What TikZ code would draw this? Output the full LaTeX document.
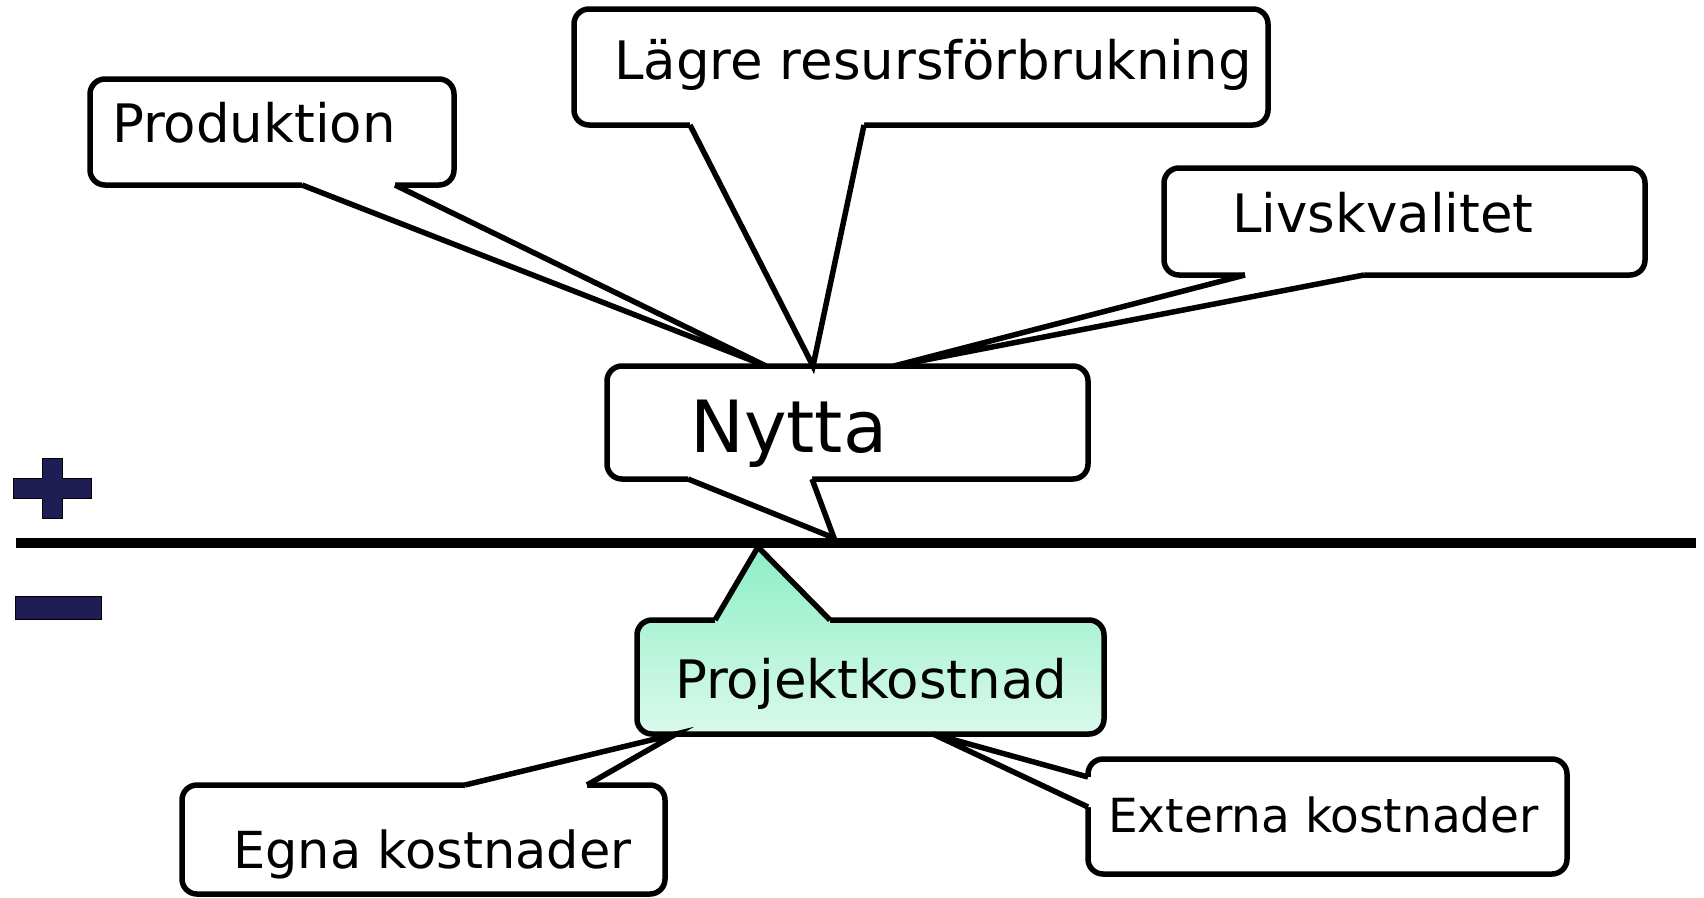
\documentclass[tikz,border=0pt]{standalone}
\usepackage{fontspec}
\setmainfont{DejaVu Sans}
\usetikzlibrary{calc}

\definecolor{signblue}{HTML}{1E1E55}
\definecolor{mintTop}{HTML}{8CEFC6}
\definecolor{mintMid}{HTML}{ACF3D5}
\definecolor{mintBot}{HTML}{DBF9EC}

\begin{document}
\begin{tikzpicture}[
        x=1pt, y=-1pt,
        every node/.style={font=\fontsize{53}{60}\selectfont},
        box/.style={draw, line width=5.5pt, rounded corners=15pt, rectangle, inner sep=0pt, outer sep=0pt},
        whitebox/.style={box, fill=white},
        mintbox/.style={box, top color=mintMid, bottom color=mintBot},
        txt/.style={anchor=base west, inner sep=0pt},
        ptrline/.style={line width=5.5pt, line join=miter},
        sign/.style={fill=signblue, draw=black, line width=1pt}
    ]
    \useasboundingbox (0,0) rectangle (1704,897);

    % callout frames
    \node[whitebox, minimum width=364pt, minimum height=106pt] (prod) at (272,132) {};
    \node[whitebox, minimum width=694pt, minimum height=116pt] (lagre) at (921,67) {};
    \node[whitebox, minimum width=481pt, minimum height=107pt] (livs) at (1404.5,221.5) {};
    \node[whitebox, minimum width=481pt, minimum height=113pt] (nytta) at (847.5,422.5) {};
    \node[mintbox, minimum width=467pt, minimum height=114pt] (proj) at (870.5,677) {};
    \node[whitebox, minimum width=483pt, minimum height=109pt] (egna) at (423.5,839.5) {};
    \node[whitebox, minimum width=479pt, minimum height=115pt] (ext) at (1327.5,816.5) {};

    \coordinate (axisL) at (16,543);
    \coordinate (axisR) at (1696,543);

    % pointer ends
    \coordinate (prodA) at ($(prod.south west)+(212,0)$);
    \coordinate (prodB) at ($(prod.south west)+(305,0)$);
    \coordinate (prodTip) at ($(nytta.north west)+(159,0)$);
    \coordinate (lagreA) at ($(lagre.south west)+(116,0)$);
    \coordinate (lagreB) at ($(lagre.south west)+(290,0)$);
    \coordinate (lagreTip) at ($(nytta.north west)+(206,0)$);
    \coordinate (livsA) at ($(livs.south west)+(81,0)$);
    \coordinate (livsB) at ($(livs.south west)+(200,0)$);
    \coordinate (livsTip) at ($(nytta.north west)+(287,0)$);
    \coordinate (nyttaA) at ($(nytta.south west)+(81,0)$);
    \coordinate (nyttaB) at ($(nytta.south west)+(205,0)$);
    \coordinate (nyttaTip) at ($(axisL)+(818,-5)$);
    \coordinate (projA) at ($(proj.north west)+(78,0)$);
    \coordinate (projB) at ($(proj.north west)+(193,0)$);
    \coordinate (projTip) at ($(axisL)+(742,4)$);
    \coordinate (egnaA) at ($(egna.north west)+(283,0)$);
    \coordinate (egnaB) at ($(egna.north west)+(405,0)$);
    \coordinate (egnaTip) at ($(proj.south west)+(39,0)$);
    \coordinate (extA) at ($(ext.north west)+(0,18)$);
    \coordinate (extB) at ($(ext.north west)+(0,48)$);
    \coordinate (extTip) at ($(proj.south west)+(296,0)$);

    % white pointers
    \foreach \a/\b/\t/\s in {prodA/prodB/prodTip/{0,-4}, lagreA/lagreB/lagreTip/{0,-4},
                             livsA/livsB/livsTip/{0,-4}, nyttaA/nyttaB/nyttaTip/{0,-4},
                             egnaA/egnaB/egnaTip/{0,4}, extA/extB/extTip/{4,0}} {
        \fill[white] ($(\a)+(\s)$) -- (\a) -- (\t) -- (\b) -- ($(\b)+(\s)$) -- cycle;
        \draw[ptrline] (\a) -- (\t) -- (\b);
    }

    % mint pointer
    \shade[top color=mintTop, bottom color=mintMid] ($(projA)+(0,4)$) -- (projA) -- (projTip) -- (projB) -- ($(projB)+(0,4)$) -- cycle;
    \draw[ptrline] (projA) -- (projTip) -- (projB);

    % texts
    \node[txt] (prodtext) at (112,142) {Produktion};
    \node[txt] (lagretext) at (614,79) {Lägre resursförbrukning};
    \node[txt] (livstext) at (1232,232) {Livskvalitet};
    \node[txt, font=\fontsize{72}{80}\selectfont] (nyttatext) at (690,452) {Nytta};
    \node[txt] (projtext) at (675,698) {Projektkostnad};
    \node[txt, font=\fontsize{51}{58}\selectfont] (egnatext) at (233,868) {Egna kostnader};
    \node[txt, font=\fontsize{47}{54}\selectfont] (exttext) at (1108,832) {Externa kostnader};

    % axis and signs
    \draw[line width=10pt] (axisL) -- (axisR);
    \draw[sign] (42,458) -- (62,458) -- (62,478) -- (91,478) -- (91,498) -- (62,498) -- (62,518)
        -- (42,518) -- (42,498) -- (13,498) -- (13,478) -- (42,478) -- cycle;
    \draw[sign] (15,596) rectangle (101,619);

\end{tikzpicture}
\end{document}
